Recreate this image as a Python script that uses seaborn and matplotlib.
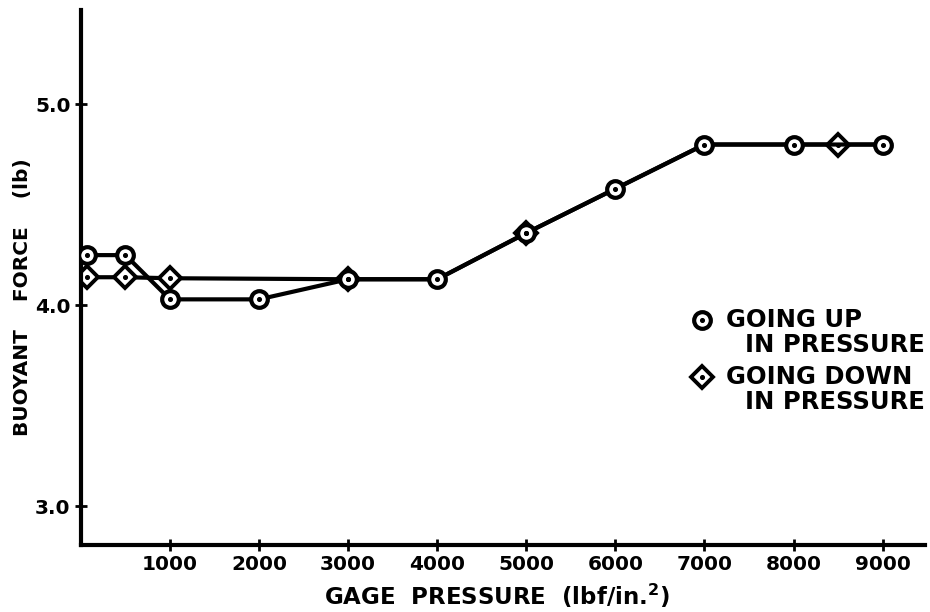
import numpy as np
import pandas as pd
import matplotlib
matplotlib.use("Agg")
import matplotlib.pyplot as plt
import seaborn as sns

# Data (gage pressure in lbf/in^2, buoyant force in lb)
up_pressure = [70, 500, 1000, 2000, 3000, 4000, 5000, 6000, 7000, 8000, 9000]
up_force = [4.25, 4.25, 4.03, 4.03, 4.13, 4.13, 4.36, 4.58, 4.80, 4.80, 4.80]

down_pressure = [70, 500, 1000, 3000, 4000, 5000, 6000, 7000, 8500, 9000]
down_force = [4.14, 4.14, 4.135, 4.13, 4.13, 4.36, 4.58, 4.80, 4.80, 4.80]
down_marked = [0, 1, 2, 3, 5, 8]  # points where a diamond was drawn

x_ticks = [1000, 2000, 3000, 4000, 5000, 6000, 7000, 8000, 9000]
y_ticks = [3.0, 4.0, 5.0]
y_tick_labels = ["3.0", "4.0", "5.0"]

sns.set_style("ticks")
plt.rcParams["font.family"] = ["DejaVu Sans"]
plt.rcParams["font.weight"] = "bold"
plt.rcParams["text.color"] = "black"
plt.rcParams["axes.labelcolor"] = "black"
plt.rcParams["xtick.color"] = "black"
plt.rcParams["ytick.color"] = "black"

fig = plt.figure(figsize=(9.3, 6.12), dpi=100)
ax = fig.add_axes([0.087, 0.11, 0.908, 0.874])

up_df = pd.DataFrame({"pressure": up_pressure, "force": up_force})
down_df = pd.DataFrame({"pressure": down_pressure, "force": down_force})

circle_style = dict(marker="o", markersize=12, markerfacecolor="white",
                    markeredgecolor="black", markeredgewidth=3)
diamond_style = dict(marker="D", markersize=11, markerfacecolor="white",
                     markeredgecolor="black", markeredgewidth=2.8)

# going down first, so circles sit on top
sns.lineplot(data=down_df, x="pressure", y="force", ax=ax, color="black",
             linewidth=3, markevery=down_marked, sort=False, zorder=2,
             **diamond_style)
sns.lineplot(data=up_df, x="pressure", y="force", ax=ax, color="black",
             linewidth=3, sort=False, zorder=3, **circle_style)

# little dot in the middle of each marker
ax.scatter(up_pressure, up_force, s=7, color="black", zorder=4)
ax.scatter([down_pressure[i] for i in down_marked],
           [down_force[i] for i in down_marked], s=7, color="black", zorder=4)

ax.set_xlim(0, 9480)
ax.set_ylim(2.81, 5.47)
ax.set_xticks(x_ticks)
ax.set_xticklabels([str(t) for t in x_ticks])
ax.set_yticks(y_ticks)
ax.set_yticklabels(y_tick_labels)

sns.despine(ax=ax)
ax.spines["left"].set_linewidth(3)
ax.spines["bottom"].set_linewidth(3)
ax.spines["left"].set_color("black")
ax.spines["bottom"].set_color("black")
ax.tick_params(direction="inout", length=9, width=2, labelsize=14.5, pad=3)
for lab in ax.get_xticklabels() + ax.get_yticklabels():
    lab.set_fontweight("bold")

ax.set_xlabel("GAGE  PRESSURE  (lbf/in.$^\\mathbf{2}$)", fontsize=16.5,
              fontweight="bold")
ax.xaxis.set_label_coords(0.493, -0.07)
ax.set_ylabel("BUOYANT    FORCE    (lb)", fontsize=14.5, fontweight="bold")
ax.yaxis.set_label_coords(-0.058, 0.463)

# legend, hand placed like the original drawing
ax.plot([0.735], [0.420], transform=ax.transAxes, linestyle="none",
        clip_on=False, **circle_style)
ax.plot([0.735], [0.313], transform=ax.transAxes, linestyle="none",
        clip_on=False, **diamond_style)
ax.scatter([0.735, 0.735], [0.420, 0.313], transform=ax.transAxes, s=7,
           color="black", zorder=4)
legend_font = dict(fontsize=17.5, fontweight="bold", va="center", ha="left",
                   transform=ax.transAxes)
ax.text(0.764, 0.420, "GOING UP", **legend_font)
ax.text(0.787, 0.373, "IN PRESSURE", **legend_font)
ax.text(0.764, 0.313, "GOING DOWN", **legend_font)
ax.text(0.787, 0.266, "IN PRESSURE", **legend_font)

fig.savefig("out.png", dpi=100)
